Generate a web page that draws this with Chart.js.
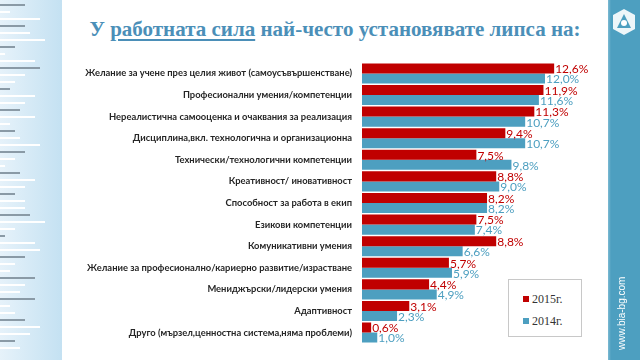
<!DOCTYPE html>
<html>
<head>
<meta charset="utf-8">
<script src="https://cdn.jsdelivr.net/npm/chart.js@4"></script>
<style>
  body { margin: 0; width: 640px; height: 360px; overflow: hidden; background: #fff; position: relative; font-family: Lato, sans-serif; }
  #leftStrip { position: absolute; left: 0; top: 0; width: 62px; height: 360px; background: linear-gradient(to right, #e6f2fa, #c4e1f2); }
  #rightStrip { position: absolute; left: 608px; top: 0; width: 32px; height: 360px; background: linear-gradient(to right, #7dbad3 0, #4d9fc0 3px, #4d9fc0); }
  #site { position: absolute; left: 616px; top: 350px; transform: rotate(-90deg); transform-origin: left top; color: #fff; font: 10px "Liberation Sans", sans-serif; white-space: nowrap; }
  #logo { position: absolute; left: 612px; top: 8px; width: 24px; height: 28px; }
  h1 { position: absolute; left: 62px; width: 546px; top: 17px; margin: 0; text-align: center; font: bold 21px "Liberation Serif", serif; color: #4b8fb8; }
  h1 u { text-underline-offset: 3px; }
  #wrap { position: absolute; left: 60px; top: 47px; width: 546px; height: 312px; }
  #legend { position: absolute; left: 508px; top: 279px; width: 72px; height: 56px; border: 1px solid #c8c8c8; background: #fff; font: 12px "Liberation Serif", serif; color: #333; }
  #legend div { position: absolute; left: 14px; }
  #legend span { display: inline-block; width: 6px; height: 6px; margin-right: 3px; vertical-align: 1px; }
</style>
</head>
<body>
<div id="leftStrip"><canvas id="lines" width="62" height="360"></canvas></div>
<h1>У <u>работната сила</u> най-често установявате липса на:</h1>
<div id="wrap"><canvas id="chart"></canvas></div>
<div id="legend">
  <div style="top:12px"><span style="background:#c00000"></span>2015г.</div>
  <div style="top:34px"><span style="background:#4d9fc0"></span>2014г.</div>
</div>
<div id="rightStrip"></div>
<svg id="logo" viewBox="0 0 24 28"><polygon points="12,1 23,7 23,21 12,27 1,21 1,7" fill="#fff" opacity="0.9"/><polygon points="12,6 19,20 5,20" fill="#4d9fc0"/><circle cx="12" cy="15" r="3" fill="#fff"/></svg>
<div id="site">www.bia-bg.com</div>
<script>
const categories = [
  'Желание за учене през целия живот (самоусъвършенстване)',
  'Професионални умения/компетенции',
  'Нереалистична самооценка и очаквания за реализация',
  'Дисциплина,вкл. технологична и организационна',
  'Технически/технологични компетенции',
  'Креативност/ иновативност',
  'Способност за работа в екип',
  'Езикови компетенции',
  'Комуникативни умения',
  'Желание за професионално/кариерно развитие/израстване',
  'Мениджърски/лидерски умения',
  'Адаптивност',
  'Друго (мързел,ценностна система,няма проблеми)'
];
const values2015 = [12.6, 11.9, 11.3, 9.4, 7.5, 8.8, 8.2, 7.5, 8.8, 5.7, 4.4, 3.1, 0.6];
const values2014 = [12.0, 11.6, 10.7, 10.7, 9.8, 9.0, 8.2, 7.4, 6.6, 5.9, 4.9, 2.3, 1.0];

// decorative lines on the left strip
const lc = document.getElementById('lines').getContext('2d');
const lens = [25, 10, 40, 25, 30, 45, 15, 5, 35, 40, 25, 15, 10, 35, 25, 20, 35, 10, 15, 20, 40, 25, 15, 5, 20, 35, 25, 15, 25, 25, 30, 45, 15, 5, 35, 40, 25, 15, 10, 35, 25, 20, 35, 10, 15, 25, 40, 30, 15, 20];
lens.forEach((w, i) => {
  lc.fillStyle = i % 3 === 0 ? '#8a9aa6' : '#ffffff';
  lc.fillRect(0, 4 + i * 7, w, 2);
});

const fmt = v => v.toFixed(1).replace('.', ',') + '%';

// value labels at the end of each bar
const valueLabels = {
  id: 'valueLabels',
  afterDatasetsDraw(chart) {
    const ctx = chart.ctx;
    ctx.save();
    ctx.font = '12px Lato, sans-serif';
    ctx.textBaseline = 'middle';
    chart.data.datasets.forEach((ds, di) => {
      ctx.fillStyle = ds.labelColor;
      chart.getDatasetMeta(di).data.forEach((bar, i) => {
        ctx.fillText(fmt(ds.data[i]), bar.x + 1, bar.y + 1);
      });
    });
    ctx.restore();
  }
};

new Chart(document.getElementById('chart'), {
  type: 'bar',
  data: {
    labels: categories,
    datasets: [
      { label: '2015г.', data: values2015, backgroundColor: '#c00000', labelColor: '#c00000' },
      { label: '2014г.', data: values2014, backgroundColor: '#4d9fc0', labelColor: '#4d9fc0' }
    ]
  },
  options: {
    indexAxis: 'y',
    responsive: true,
    maintainAspectRatio: false,
    animation: false,
    layout: { padding: { top: 5, bottom: 6 } },
    datasets: { bar: { categoryPercentage: 0.93, barPercentage: 1 } },
    scales: {
      x: { display: false, min: 0, max: 16 },
      y: {
        afterFit: s => { s.width = 302; },
        grid: { display: false, drawTicks: false },
        border: { display: false },
        ticks: { padding: 10, color: '#262626', font: { family: 'Lato', size: 9.4, weight: 'bold' } }
      }
    },
    plugins: { legend: { display: false }, tooltip: { enabled: false } }
  },
  plugins: [valueLabels]
});
</script>
</body>
</html>
